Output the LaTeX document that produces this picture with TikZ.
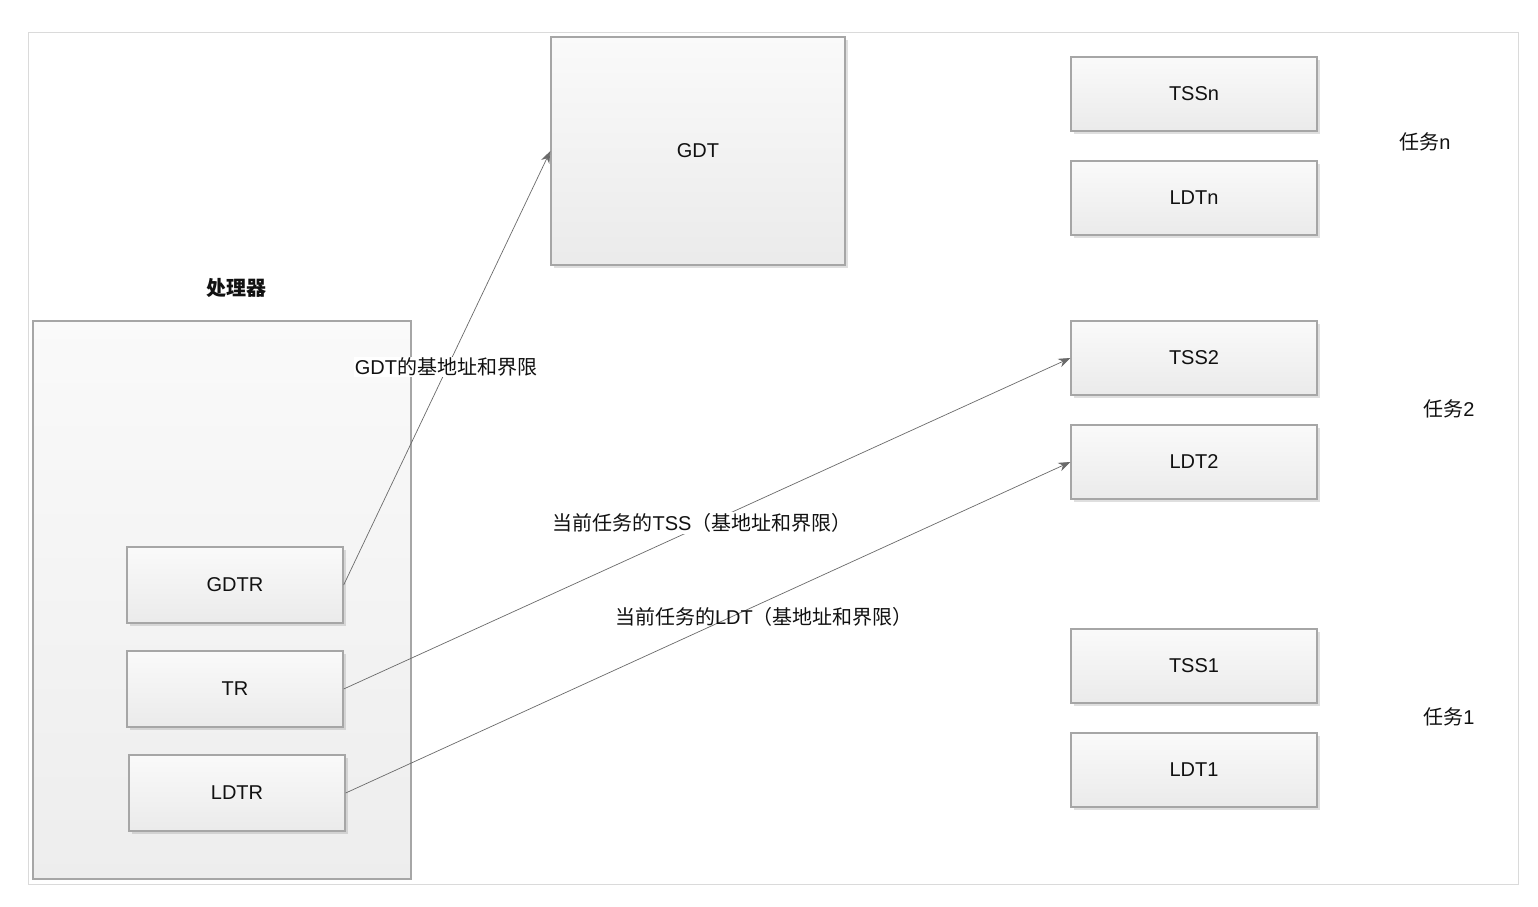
\documentclass[tikz,border=0pt]{standalone}
\usepackage{fontspec}
\setmainfont{Liberation Sans}
\newfontfamily\cjk{Noto Sans CJK SC}
\usetikzlibrary{arrows.meta,shadows}
\definecolor{bordergray}{HTML}{A6A6A6}
\definecolor{linegray}{HTML}{6A6A6A}
\definecolor{framegray}{HTML}{DADADA}
\definecolor{txt}{HTML}{111111}
\tikzset{
  regbox/.style={draw=bordergray, line width=1.3pt, top color=white!98!black, bottom color=white!92!black,
    drop shadow={shadow xshift=3pt, shadow yshift=-3pt, opacity=0.25, fill=gray},
    font=\fontsize{20}{24}\selectfont, text=txt, inner sep=0pt},
  lbl/.style={font=\fontsize{20}{24}\selectfont, text=txt, inner sep=1pt},
  conn/.style={draw=linegray, line width=0.7pt, -{Stealth[length=12pt,width=9pt]}},
}
\begin{document}
\begin{tikzpicture}[x=1pt,y=-1pt]
\useasboundingbox (0,0) rectangle (1538,906);
\fill[white] (0,0) rectangle (1538,906);
\draw[framegray, line width=1pt] (28,32) rectangle (1518,884);
% processor
\node[lbl, font=\fontsize{20}{24}\selectfont\bfseries\cjk] (ptitle) at (236,288) {处理器};
\node[draw=bordergray, line width=1.3pt, top color=white!98!black, bottom color=white!93!black,
  minimum width=378pt, minimum height=558pt, inner sep=0pt] (proc) at (222,600) {};
\node[regbox, minimum width=216pt, minimum height=76pt] (gdtr) at (235,585) {GDTR};
\node[regbox, minimum width=216pt, minimum height=76pt] (tr) at (235,689) {TR};
\node[regbox, minimum width=216pt, minimum height=76pt] (ldtr) at (237,793) {LDTR};
% GDT
\node[regbox, minimum width=294pt, minimum height=228pt] (gdt) at (698,151) {GDT};
% tasks
\node[regbox, minimum width=246pt, minimum height=74pt] (tssn) at (1194,94) {TSSn};
\node[regbox, minimum width=246pt, minimum height=74pt] (ldtn) at (1194,198) {LDTn};
\node[regbox, minimum width=246pt, minimum height=74pt] (tss2) at (1194,358) {TSS2};
\node[regbox, minimum width=246pt, minimum height=74pt] (ldt2) at (1194,462) {LDT2};
\node[regbox, minimum width=246pt, minimum height=74pt] (tss1) at (1194,666) {TSS1};
\node[regbox, minimum width=246pt, minimum height=74pt] (ldt1) at (1194,770) {LDT1};
\node[lbl] (taskn) at (1425,142) {{\cjk 任务}n};
\node[lbl] (task2) at (1449,409) {{\cjk 任务}2};
\node[lbl] (task1) at (1449,717) {{\cjk 任务}1};
% connectors
\draw[conn] (gdtr.east) -- (gdt.west);
\draw[conn] (tr.east) -- (tss2.west);
\draw[conn] (ldtr.east) -- (ldt2.west);
\node[lbl, fill=white] (l1) at (446,367) {GDT{\cjk 的基地址和界限}};
\node[lbl, fill=white] (l2) at (702,523) {{\cjk 当前任务的}TSS{\cjk （基地址和界限）}};
\node[lbl] (l3) at (764,617) {{\cjk 当前任务的}LDT{\cjk （基地址和界限）}};
\end{tikzpicture}
\end{document}
